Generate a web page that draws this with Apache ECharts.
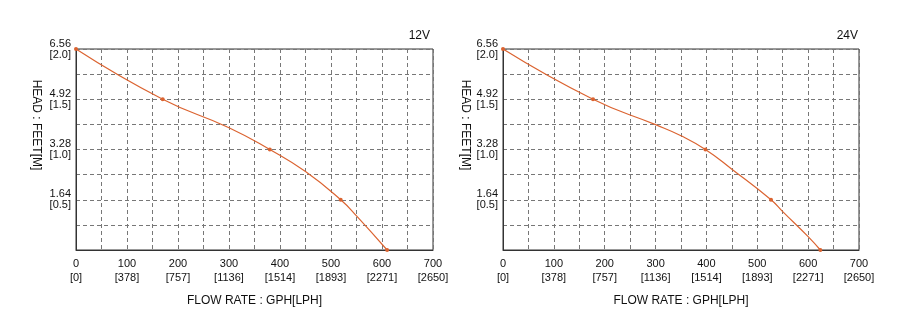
<!DOCTYPE html>
<html><head><meta charset="utf-8">
<script src="https://cdn.jsdelivr.net/npm/echarts@6/dist/echarts.min.js"></script>
<style>html,body{margin:0;padding:0;background:#fff}#c{width:898px;height:324px}</style>
</head><body><div id="c"></div>
<script>
const gphTicks = [0,100,200,300,400,500,600,700];
const lphTicks = [0,378,757,1136,1514,1893,2271,2650];
const headMeters = [0.5,1.0,1.5,2.0];
const headFeet = ['1.64','3.28','4.92','6.56'];
// GPH, head (m), marker shown?
const flow12 = [0,170,300,380,450,519,550,610];
const head12 = [2.0,1.5,1.217,1.0,0.78,0.5,0.339,0];
const mark12 = [1,1,0,1,0,1,0,1];
const flow24 = [0,177,300,350,398,450,527,550,600,624];
const head24 = [2.0,1.5,1.247,1.137,1.0,0.804,0.5,0.382,0.133,0];
const mark24 = [1,1,0,0,1,0,1,0,0,1];
const titles = ['12V','24V'];

const font = 'Liberation Sans, Arial, sans-serif';
const lineColor = '#db6330';
const grids = [
  {left:76,right:465,top:49,bottom:74},
  {left:503,right:39,top:49,bottom:74}
];
function mkData(f,h,m){return f.map((x,i)=>({value:[x,h[i]],symbolSize:m[i]?4:0,symbol:m[i]?'circle':'none'}));}
const xAxes=[],yAxes=[],series=[];
grids.forEach((g,i)=>{
  g.show=true; g.borderColor='#333'; g.borderWidth=1;
  xAxes.push({type:'value',gridIndex:i,min:0,max:700,interval:50,
    name:'FLOW RATE : GPH[LPH]',nameLocation:'middle',nameGap:45,
    nameTextStyle:{fontFamily:font,fontSize:12,color:'#111'},
    axisLine:{show:true,lineStyle:{color:'#333'}},axisTick:{show:false},
    axisLabel:{fontFamily:font,fontSize:11,color:'#111',margin:7,lineHeight:14,showMaxLabel:true,
      formatter:v=>{const k=gphTicks.indexOf(v);return k<0?'':v+'\n['+lphTicks[k]+']';}},
    splitLine:{show:true,lineStyle:{color:'#777',type:[4,3],width:1}}});
  yAxes.push({type:'value',gridIndex:i,min:0,max:2,interval:0.25,
    axisLine:{show:true,lineStyle:{color:'#333'}},axisTick:{show:false},
    axisLabel:{fontFamily:font,fontSize:11,color:'#111',margin:5,lineHeight:11,showMaxLabel:true,
      formatter:v=>{const k=headMeters.indexOf(v);return k<0?'':headFeet[k]+'\n['+v.toFixed(1)+']';}},
    splitLine:{show:true,lineStyle:{color:'#777',type:[4,3],width:1}}});
});
series.push({type:'line',xAxisIndex:0,yAxisIndex:0,smooth:0.5,data:mkData(flow12,head12,mark12),
  lineStyle:{color:lineColor,width:1.2},itemStyle:{color:lineColor},animation:false,clip:false});
series.push({type:'line',xAxisIndex:1,yAxisIndex:1,smooth:0.5,data:mkData(flow24,head24,mark24),
  lineStyle:{color:lineColor,width:1.2},itemStyle:{color:lineColor},animation:false,clip:false});

const chart = echarts.init(document.getElementById('c'),null,{renderer:'canvas'});
chart.setOption({
  animation:false,
  grid:grids,xAxis:xAxes,yAxis:yAxes,series:series,
  graphic:[
    {type:'text',x:36,y:125,rotation:-Math.PI/2,style:{text:'HEAD : FEET[M]',font:'12px '+font,fill:'#111',align:'center',verticalAlign:'middle'}},
    {type:'text',x:465,y:125,rotation:-Math.PI/2,style:{text:'HEAD : FEET[M]',font:'12px '+font,fill:'#111',align:'center',verticalAlign:'middle'}},
    {type:'text',x:430,y:36,style:{text:titles[0],font:'12px '+font,fill:'#111',align:'right',verticalAlign:'middle'}},
    {type:'text',x:858,y:36,style:{text:titles[1],font:'12px '+font,fill:'#111',align:'right',verticalAlign:'middle'}}
  ]
});
</script></body></html>
